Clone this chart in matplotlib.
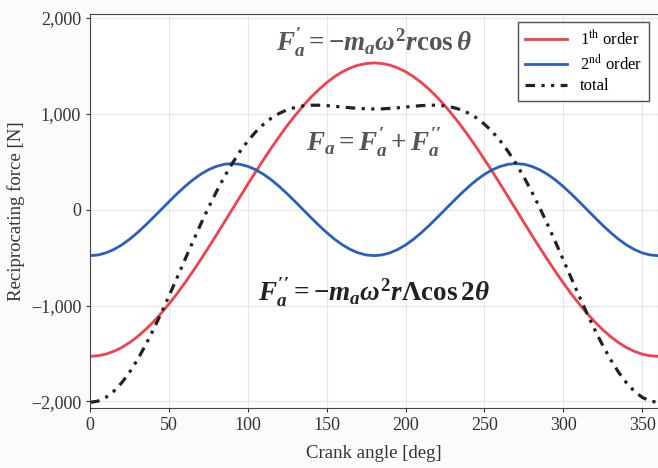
import matplotlib
matplotlib.use("Agg")
import matplotlib.pyplot as plt
from matplotlib.ticker import FuncFormatter, MultipleLocator
from matplotlib.font_manager import FontProperties

plt.rcParams['font.family'] = ['Liberation Serif', 'DejaVu Serif']
plt.rcParams['mathtext.fontset'] = 'custom'
plt.rcParams['mathtext.rm'] = 'Liberation Serif:bold'
plt.rcParams['mathtext.it'] = 'Liberation Serif:bold:italic'
plt.rcParams['mathtext.bf'] = 'Liberation Serif:bold'

angle = list(range(0, 361, 5))
first_order = [-1530, -1524, -1507, -1478, -1438, -1387, -1325, -1253, -1172, -1082,
               -983, -878, -765, -647, -523, -396, -266, -133, 0,
               133, 266, 396, 523, 647, 765, 878, 983, 1082, 1172,
               1253, 1325, 1387, 1438, 1478, 1507, 1524, 1530,
               1524, 1507, 1478, 1438, 1387, 1325, 1253, 1172, 1082,
               983, 878, 765, 647, 523, 396, 266, 133, 0,
               -133, -266, -396, -523, -647, -765, -878, -983, -1082,
               -1172, -1253, -1325, -1387, -1438, -1478, -1507, -1524, -1530]
second_order = [-480, -473, -451, -416, -368, -309, -240, -164, -83, 0,
                83, 164, 240, 309, 368, 416, 451, 473, 480,
                473, 451, 416, 368, 309, 240, 164, 83, 0,
                -83, -164, -240, -309, -368, -416, -451, -473, -480,
                -473, -451, -416, -368, -309, -240, -164, -83, 0,
                83, 164, 240, 309, 368, 416, 451, 473, 480,
                473, 451, 416, 368, 309, 240, 164, 83, 0,
                -83, -164, -240, -309, -368, -416, -451, -473, -480]
total = [-2010, -1997, -1958, -1894, -1806, -1696, -1565, -1417, -1255, -1082,
         -900, -714, -525, -338, -155, 20, 185, 340, 480,
         606, 717, 812, 891, 956, 1005, 1042, 1066, 1082, 1089,
         1089, 1085, 1078, 1070, 1062, 1056, 1051, 1050,
         1051, 1056, 1062, 1070, 1078, 1085, 1089, 1089, 1082,
         1066, 1042, 1005, 956, 891, 812, 717, 606, 480,
         340, 185, 20, -155, -338, -525, -714, -900, -1082,
         -1255, -1417, -1565, -1696, -1806, -1894, -1958, -1997, -2010]

fig = plt.figure(figsize=(6.58, 4.68), dpi=100)
fig.patch.set_facecolor('#fbfbfb')
ax = fig.add_axes([0.137, 0.128, 0.863, 0.842])

ax.plot(angle, first_order, color='#f2404f', lw=2.0, label=r'1$^{\rm th}$ order')
ax.plot(angle, second_order, color='#2a5fbf', lw=2.0, label=r'2$^{\rm nd}$ order')
ax.plot(angle, total, color='#222222', lw=2.3, linestyle=(0, (3, 2, 1, 2, 1, 2)), label='total')

ax.set_xlim(0, 360)
ax.set_ylim(-2070, 2040)
ax.xaxis.set_major_locator(MultipleLocator(50))
ax.yaxis.set_major_locator(MultipleLocator(1000))
ax.yaxis.set_major_formatter(FuncFormatter(lambda v, p: f"{int(v):,}".replace('-', '\u2212')))
ax.grid(True, color='#e6e6e6', lw=0.8)
ax.set_axisbelow(True)
ax.tick_params(labelsize=13, colors='#333333', length=3)
for s in ax.spines.values():
    s.set_color('#444444')

ax.set_xlabel('Crank angle [deg]', fontsize=13.5, color='#333333', labelpad=8)
ax.set_ylabel('Reciprocating force [N]', fontsize=13.5, color='#333333', labelpad=4)

legprop = FontProperties(family='Liberation Serif', size=12, math_fontfamily='stix')
leg = ax.legend(loc='upper right', bbox_to_anchor=(0.998, 1.0), prop=legprop,
                frameon=True, fancybox=False, edgecolor='#222222', handlelength=2.5,
                labelspacing=0.3, borderpad=0.4)
leg.get_frame().set_linewidth(1.0)

ax.text(180, 1740, r"$F^{\prime}_{a}=-m_{a}\omega^{2}r\cos\theta$",
        fontsize=19.5, color='#555555', ha='center', va='center')
ax.text(180, 700, r"$F_{a}=F^{\prime}_{a}+F^{\prime\prime}_{a}$",
        fontsize=19.5, color='#555555', ha='center', va='center')
ax.text(180, -860, r"$F^{\prime\prime}_{a}=-m_{a}\omega^{2}r\Lambda\cos2\theta$",
        fontsize=19.5, color='#222222', ha='center', va='center')

fig.savefig('out.png', dpi=100, facecolor=fig.get_facecolor())
